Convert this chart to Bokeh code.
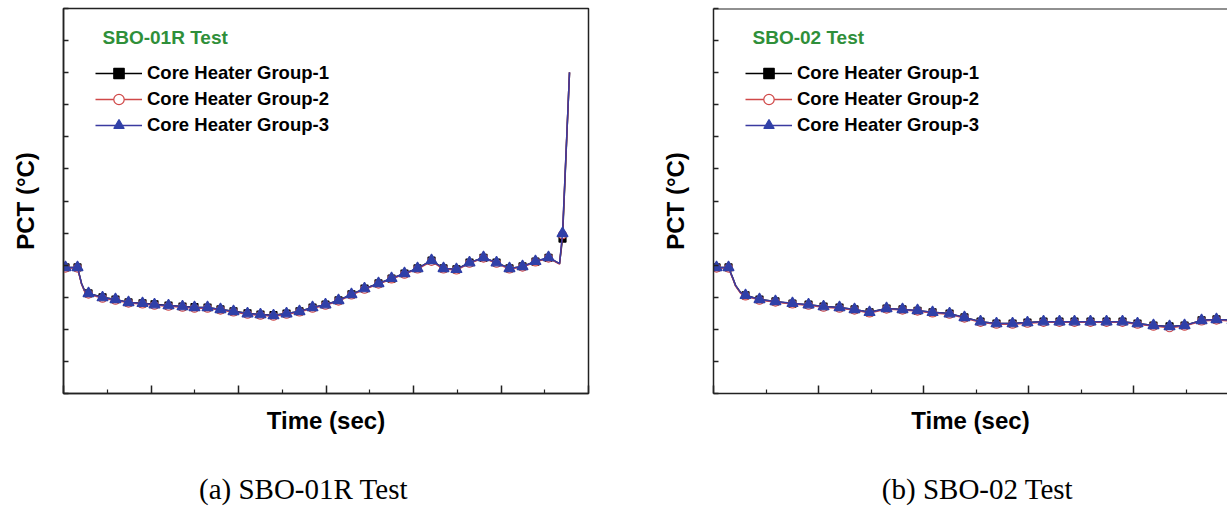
from bokeh.plotting import figure
from bokeh.layouts import row, column
from bokeh.models import Range1d, FixedTicker, Legend, LegendItem, Label, Span
from bokeh.embed import file_html
from bokeh.resources import INLINE

# ---------------- data : panel (a) SBO-01R ----------------
time_a = [0, 23, 160, 183, 206, 240, 286, 446, 594, 743, 903, 1040, 1200, 1360, 1497,
          1646, 1794, 1943, 2103, 2251, 2400, 2549, 2697, 2846, 2994, 3143, 3291, 3440,
          3600, 3749, 3897, 4046, 4206, 4343, 4491, 4640, 4800, 4949, 5097, 5246, 5394,
          5543, 5669, 5703, 5783]
g1_a = [393, 393, 393, 368, 343, 321, 312, 300, 293, 284, 281, 278, 274, 271, 269, 268,
        262, 256, 250, 246, 244, 249, 256, 268, 277, 290, 309, 327, 343, 358, 374, 390,
        414, 390, 387, 408, 423, 408, 390, 396, 411, 423, 405, 483, 1001]
g2_a = [391, 391, 391, 366, 341, 319, 310, 297, 291, 282, 279, 275, 272, 269, 266, 266,
        260, 254, 247, 244, 241, 247, 254, 266, 275, 288, 307, 325, 341, 357, 372, 388,
        412, 388, 385, 406, 422, 406, 388, 394, 410, 422, 403, 495, 1001]
g3_a = [393, 393, 393, 368, 343, 321, 312, 299, 293, 284, 281, 277, 274, 271, 268, 268,
        262, 256, 249, 246, 243, 249, 256, 268, 277, 290, 309, 327, 343, 359, 374, 390,
        415, 390, 387, 408, 424, 408, 390, 396, 412, 424, 405, 499, 1001]
marks_a = [1, 2] + list(range(6, 42)) + [43]   # indices of recorded points carrying symbols

# ---------------- data : panel (b) SBO-02 ----------------
time_b = [0, 29, 143, 181, 210, 257, 305, 438, 590, 752, 905, 1048, 1200, 1343, 1486,
          1648, 1800, 1943, 2086, 2248, 2390, 2543, 2695, 2848, 2990, 3143, 3295, 3438,
          3590, 3743, 3895, 4038, 4190, 4343, 4486, 4648, 4790, 4943]
g1_b = [393, 393, 393, 362, 337, 315, 306, 293, 287, 280, 277, 271, 268, 262, 253, 265,
        262, 258, 253, 249, 237, 224, 218, 218, 221, 224, 224, 224, 224, 224, 224, 218,
        212, 209, 212, 228, 231, 228]
g2_b = [391, 391, 391, 360, 335, 313, 304, 291, 285, 279, 275, 269, 266, 260, 251, 263,
        260, 257, 251, 247, 235, 222, 216, 216, 219, 222, 222, 222, 222, 222, 222, 216,
        210, 205, 210, 226, 229, 226]
g3_b = [393, 393, 393, 362, 337, 315, 306, 293, 287, 281, 277, 271, 268, 262, 253, 265,
        262, 259, 253, 249, 237, 224, 218, 218, 221, 224, 224, 224, 224, 224, 224, 218,
        212, 209, 212, 228, 231, 228]
marks_b = [1, 2] + list(range(6, 38))

series_labels = ["Core Heater Group-1", "Core Heater Group-2", "Core Heater Group-3"]
panel_titles = ["SBO-01R Test", "SBO-02 Test"]
captions = ["(a) SBO-01R Test", "(b) SBO-02 Test"]
y_ticks = [0, 100, 200, 300, 400, 500, 600, 700, 800, 900, 1000, 1100, 1200]
x_ticks = [0, 1000, 2000, 3000, 4000, 5000, 6000]
x_minor = [500, 1500, 2500, 3500, 4500, 5500]

FONT = "Liberation Sans"
AXIS_COL = "#222222"
GREEN = "#2f8f3a"
styles = [
    dict(marker="square", size=7, line_color="black", fill_color="black", line="black"),
    dict(marker="circle", size=8, line_color="#d04848", fill_color="white", line="#d04848"),
    dict(marker="triangle", size=11, line_color="#3040a8", fill_color="#3040a8", line="#3a3aa0"),
]


def make_panel(width, b_left, b_right, x_end, t, groups, marks, title, full_outline):
    p = figure(width=width, height=470, x_range=Range1d(0, x_end), y_range=Range1d(0, 1200),
               output_backend="svg", toolbar_location=None,
               min_border_left=b_left, min_border_right=b_right,
               min_border_top=8, min_border_bottom=77)
    p.grid.visible = False
    p.background_fill_color = "white"
    p.border_fill_color = "white"
    if full_outline:
        p.outline_line_color = AXIS_COL
        p.outline_line_width = 1.5
    else:
        p.outline_line_color = None
        p.add_layout(Span(location=1200, dimension="width", line_color=AXIS_COL, line_width=2))

    for ax in (p.xaxis[0], p.yaxis[0]):
        ax.axis_line_color = AXIS_COL
        ax.axis_line_width = 1.5
        ax.major_tick_line_color = AXIS_COL
        ax.minor_tick_line_color = AXIS_COL
        ax.major_tick_line_width = 1.5
        ax.minor_tick_line_width = 1.2
        ax.major_tick_out = 0
        ax.minor_tick_out = 0
        ax.major_label_text_font_size = "1px"
        ax.major_label_text_color = None
        ax.major_label_standoff = 0
        ax.axis_label_text_font = FONT
        ax.axis_label_text_font_style = "bold"
        ax.axis_label_text_font_size = "24px"
        ax.axis_label_text_color = "black"

    p.xaxis.ticker = FixedTicker(ticks=x_ticks, minor_ticks=x_minor)
    p.xaxis.major_tick_in = 8
    p.xaxis.minor_tick_in = 4
    p.xaxis.axis_label = "Time (sec)"
    p.xaxis.axis_label_standoff = 13

    p.yaxis.ticker = FixedTicker(ticks=y_ticks, minor_ticks=[])
    p.yaxis.major_tick_in = 5
    p.yaxis.minor_tick_in = 0
    p.yaxis.axis_label = "PCT (\u00b0C)"
    p.yaxis.axis_label_standoff = 25

    items = []
    for vals, st, lab in zip(groups, styles, series_labels):
        ln = p.line(t, vals, line_color=st["line"], line_width=1.5)
        mx = [t[i] for i in marks]
        my = [vals[i] for i in marks]
        sc = p.scatter(mx, my, marker=st["marker"], size=st["size"],
                       line_color=st["line_color"], fill_color=st["fill_color"], line_width=1.2)
        items.append(LegendItem(label=lab, renderers=[ln, sc]))

    legend = Legend(items=items, location=(32, 255), padding=0, margin=0, spacing=0,
                    glyph_width=47, glyph_height=26, label_height=26, label_standoff=5,
                    label_text_font=FONT, label_text_font_style="bold",
                    label_text_font_size="18.5px", label_text_color="black",
                    border_line_color=None, background_fill_alpha=0)
    p.add_layout(legend)

    p.add_layout(Label(x=39, y=356, x_units="screen", y_units="screen", text=title,
                       text_font=FONT, text_font_style="bold", text_font_size="19px",
                       text_color=GREEN, text_baseline="alphabetic"))
    return p


p1 = make_panel(650, 63, 62, 6000, time_a, [g1_a, g2_a, g3_a], marks_a, panel_titles[0], True)
p2 = make_panel(577, 63, 0, 4895, time_b, [g1_b, g2_b, g3_b], marks_b, panel_titles[1], False)

# caption strip beneath both panels
cap = figure(width=1227, height=36, x_range=Range1d(0, 1227), y_range=Range1d(0, 36),
             output_backend="svg", toolbar_location=None, x_axis_type=None, y_axis_type=None,
             min_border_left=0, min_border_right=0, min_border_top=0, min_border_bottom=0)
cap.grid.visible = False
cap.outline_line_color = None
for cx, txt in zip([303, 977], captions):
    cap.add_layout(Label(x=cx, y=18, x_units="screen", y_units="screen", text=txt,
                         text_font="Liberation Serif", text_font_size="29px",
                         text_color="black", text_align="center", text_baseline="alphabetic"))

layout = column(row(p1, p2), cap)
open("out.html", "w").write(file_html(layout, INLINE))
